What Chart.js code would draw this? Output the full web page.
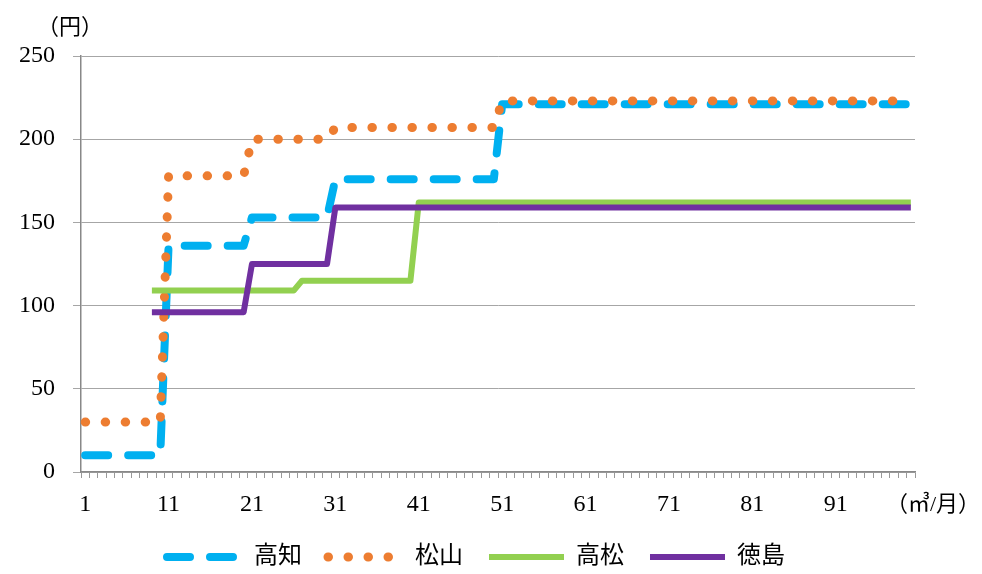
<!DOCTYPE html>
<html>
<head>
<meta charset="utf-8">
<script src="https://cdn.jsdelivr.net/npm/chart.js@4.4.1/dist/chart.umd.min.js"></script>
<style>
html, body { margin: 0; padding: 0; background: #fff; }
</style>
</head>
<body>
<canvas id="linechart" width="982" height="574"></canvas>
<script>
// usage (m3 / month)
var usage = [
  '1','2','3','4','5','6','7','8','9','10',
  '11','12','13','14','15','16','17','18','19','20',
  '21','22','23','24','25','26','27','28','29','30',
  '31','32','33','34','35','36','37','38','39','40',
  '41','42','43','44','45','46','47','48','49','50',
  '51','52','53','54','55','56','57','58','59','60',
  '61','62','63','64','65','66','67','68','69','70',
  '71','72','73','74','75','76','77','78','79','80',
  '81','82','83','84','85','86','87','88','89','90',
  '91','92','93','94','95','96','97','98','99','100'
];
var tickLabels = ['1', '11', '21', '31', '41', '51', '61', '71', '81', '91'];
var yTicks = [0, 50, 100, 150, 200, 250];

var kochi = [
  10, 10, 10, 10, 10, 10, 10, 10, 10, 10,
  136, 136, 136, 136, 136, 136, 136, 136, 136, 136,
  153, 153, 153, 153, 153, 153, 153, 153, 153, 153,
  176, 176, 176, 176, 176, 176, 176, 176, 176, 176,
  176, 176, 176, 176, 176, 176, 176, 176, 176, 176,
  221, 221, 221, 221, 221, 221, 221, 221, 221, 221,
  221, 221, 221, 221, 221, 221, 221, 221, 221, 221,
  221, 221, 221, 221, 221, 221, 221, 221, 221, 221,
  221, 221, 221, 221, 221, 221, 221, 221, 221, 221,
  221, 221, 221, 221, 221, 221, 221, 221, 221, 221
];
var matsuyama = [
  30, 30, 30, 30, 30, 30, 30, 30, 30, 30,
  178, 178, 178, 178, 178, 178, 178, 178, 178, 178,
  200, 200, 200, 200, 200, 200, 200, 200, 200, 200,
  207, 207, 207, 207, 207, 207, 207, 207, 207, 207,
  207, 207, 207, 207, 207, 207, 207, 207, 207, 207,
  223, 223, 223, 223, 223, 223, 223, 223, 223, 223,
  223, 223, 223, 223, 223, 223, 223, 223, 223, 223,
  223, 223, 223, 223, 223, 223, 223, 223, 223, 223,
  223, 223, 223, 223, 223, 223, 223, 223, 223, 223,
  223, 223, 223, 223, 223, 223, 223, 223, 223, 223
];
var takamatsu = [
  null, null, null, null, null, null, null, null, 109, 109,
  109, 109, 109, 109, 109, 109, 109, 109, 109, 109,
  109, 109, 109, 109, 109, 109, 115, 115, 115, 115,
  115, 115, 115, 115, 115, 115, 115, 115, 115, 115,
  162, 162, 162, 162, 162, 162, 162, 162, 162, 162,
  162, 162, 162, 162, 162, 162, 162, 162, 162, 162,
  162, 162, 162, 162, 162, 162, 162, 162, 162, 162,
  162, 162, 162, 162, 162, 162, 162, 162, 162, 162,
  162, 162, 162, 162, 162, 162, 162, 162, 162, 162,
  162, 162, 162, 162, 162, 162, 162, 162, 162, 162
];
var tokushima = [
  null, null, null, null, null, null, null, null, 96, 96,
  96, 96, 96, 96, 96, 96, 96, 96, 96, 96,
  125, 125, 125, 125, 125, 125, 125, 125, 125, 125,
  159, 159, 159, 159, 159, 159, 159, 159, 159, 159,
  159, 159, 159, 159, 159, 159, 159, 159, 159, 159,
  159, 159, 159, 159, 159, 159, 159, 159, 159, 159,
  159, 159, 159, 159, 159, 159, 159, 159, 159, 159,
  159, 159, 159, 159, 159, 159, 159, 159, 159, 159,
  159, 159, 159, 159, 159, 159, 159, 159, 159, 159,
  159, 159, 159, 159, 159, 159, 159, 159, 159, 159
];

var yUnit = '（円）';
var xUnit = '（㎥/月）';
var serif = '"Liberation Serif", "Noto Sans CJK JP", serif';

// unit captions next to the axes
var axisUnits = {
  id: 'axisUnits',
  afterDraw: function (chart) {
    var c = chart.ctx;
    c.save();
    c.fillStyle = '#000';
    c.font = '22px ' + serif;
    c.textBaseline = 'middle';
    c.textAlign = 'center';
    c.fillText(yUnit, 70, 28);
    c.textAlign = 'left';
    c.fillText(xUnit, 886, 505);
    c.restore();
  }
};

var ctx = document.getElementById('linechart').getContext('2d');
var myChart = new Chart(ctx, {
  type: 'line',
  data: {
    labels: usage,
    datasets: [
      { label: '高知', data: kochi, borderColor: '#00B0F0', backgroundColor: '#00B0F0', borderWidth: 8,
        borderDash: [23, 20], borderCapStyle: 'round', borderJoinStyle: 'round', order: 4 },
      { label: '松山', data: matsuyama, borderColor: '#ED7D31', backgroundColor: '#ED7D31', borderWidth: 9,
        borderDash: [0.5, 19.5], borderCapStyle: 'round', borderJoinStyle: 'round', order: 3 },
      { label: '高松', data: takamatsu, borderColor: '#92D050', backgroundColor: '#92D050', borderWidth: 6,
        borderCapStyle: 'butt', borderJoinStyle: 'round', order: 2 },
      { label: '徳島', data: tokushima, borderColor: '#7030A0', backgroundColor: '#7030A0', borderWidth: 6,
        borderCapStyle: 'butt', borderJoinStyle: 'round', order: 1 }
    ]
  },
  options: {
    responsive: false,
    animation: false,
    layout: { padding: { top: 56, right: 30, left: 0, bottom: 0 } },
    elements: {
      point: { radius: 0, hoverRadius: 0 },
      line: { tension: 0, fill: false }
    },
    plugins: {
      tooltip: { enabled: false },
      legend: {
        position: 'bottom',
        maxHeight: 55,
        labels: {
          usePointStyle: true,
          pointStyle: 'line',
          pointStyleWidth: 75,
          boxHeight: 24,
          padding: 26,
          color: '#000',
          font: { size: 24, family: serif },
          sort: function (a, b) { return a.datasetIndex - b.datasetIndex; },
          generateLabels: function (chart) {
            var items = Chart.defaults.plugins.legend.labels.generateLabels(chart);
            items.forEach(function (it) {
              var ds = chart.data.datasets[it.datasetIndex];
              it.lineDash = ds.borderDash || [];
              it.lineWidth = ds.borderWidth;
              it.lineCap = ds.borderCapStyle || 'butt';
              it.strokeStyle = ds.borderColor;
              it.pointStyle = 'line';
            });
            return items;
          }
        }
      }
    },
    scales: {
      x: {
        offset: true,
        afterFit: function (s) { s.height = 47; },
        grid: { offset: true, drawOnChartArea: false, tickLength: 6, color: '#999' },
        border: { color: '#888', width: 1.5 },
        ticks: {
          autoSkip: false,
          maxRotation: 0,
          padding: 12,
          color: '#000',
          font: { size: 24, family: serif },
          callback: function (v, i) {
            var l = usage[i];
            return tickLabels.indexOf(l) >= 0 ? l : '';
          }
        }
      },
      y: {
        min: yTicks[0],
        max: yTicks[yTicks.length - 1],
        afterFit: function (s) { s.width = 81; },
        grid: { tickLength: 8, color: '#A6A6A6' },
        border: { color: '#888', width: 1.5 },
        ticks: {
          stepSize: 50,
          padding: 18,
          color: '#000',
          font: { size: 24, family: serif }
        }
      },
      // empty space on the right where the unit caption sits
      spacer: {
        position: 'right',
        afterFit: function (s) { s.width = 37; },
        grid: { display: false },
        border: { display: false },
        ticks: { display: false }
      }
    }
  },
  plugins: [axisUnits]
});
</script>
</body>
</html>
